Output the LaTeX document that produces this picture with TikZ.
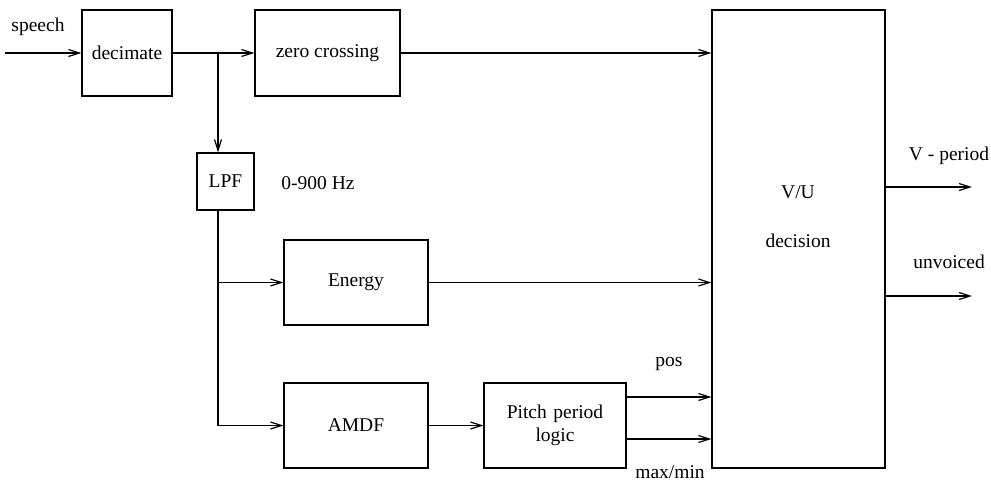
\documentclass[tikz,border=0pt]{standalone}
\usepackage{fontspec}
\setmainfont{Liberation Serif}
\usetikzlibrary{arrows.meta}
\begin{document}
\begin{tikzpicture}[x=1pt,y=-1pt,
  every node/.style={font=\fontsize{19.5}{23}\selectfont},
  box/.style={draw,line width=1.2pt,inner sep=0pt,align=center},
  conn/.style={line width=1.2pt,-{Straight Barb[length=11pt,width=7pt,line width=1.2pt]}},
  wire/.style={line width=1.2pt}]
\useasboundingbox (0,0) rectangle (991,483);
\node[box,minimum width=90pt,minimum height=86pt] (dec) at (127,53) {decimate};
\node[box,minimum width=145pt,minimum height=86pt] (zc) at (327.5,53) {zero crossing};
\node[box,minimum width=173pt,minimum height=458pt] (vu) at (798.5,239) {};
\node (vut) at (798,192) {V/U};
\node (vud) at (798,241) {decision};
\node[box,minimum width=57pt,minimum height=57pt] (lpf) at (225.5,181.5) {LPF};
\node[box,minimum width=144pt,minimum height=85pt] (en) at (356,282.5) {Energy};
\node[box,minimum width=144pt,minimum height=85pt] (amdf) at (356,425.5) {AMDF};
\node[box,minimum width=142pt,minimum height=85pt,text width=138pt] (pp) at (555,425.5) {Pitch period\\logic};
\node (sp) at (38,27) {speech};
\node (hz) at (318,183) {0-900 Hz};
\node (pos) at (669,364) {pos};
\node[inner sep=1pt] (mm) at (670,472) {max/min};
\node (vp) at (949,156) {V - period};
\node (uv) at (949,262) {unvoiced};
\coordinate (sin) at (5,53);
\coordinate (b1) at (218,53);
\coordinate (b2) at (218,282.5);
\coordinate (b3) at (218,425.5);
\coordinate (p1) at (626,397);
\coordinate (p2) at (626,439);
\coordinate (o1) at (972,187);
\coordinate (o2) at (972,296);
\draw[conn] (sin) -- (dec);
\draw[conn] (dec) -- (zc);
\draw[conn] (b1) -- (lpf.north -| b1);
\draw[conn] (zc) -- (vu.west |- zc);
\draw[wire] (lpf.south -| b1) -- (b3);
\draw[conn] (b2) -- (en);
\draw[conn] (b3) -- (amdf);
\draw[conn] (en) -- (vu.west |- en);
\draw[conn] (amdf) -- (pp);
\draw[conn] (p1) -- (vu.west |- p1);
\draw[conn] (p2) -- (vu.west |- p2);
\draw[conn] (vu.east |- o1) -- (o1);
\draw[conn] (vu.east |- o2) -- (o2);
\end{tikzpicture}
\end{document}
